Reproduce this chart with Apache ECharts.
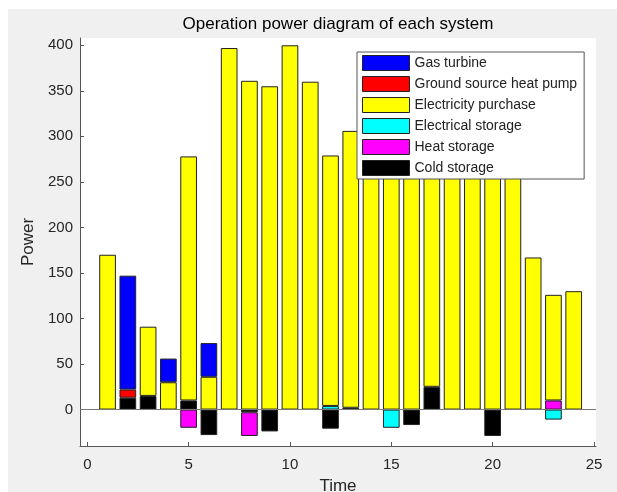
<!DOCTYPE html>
<html><head><meta charset="utf-8">
<script src="https://cdn.jsdelivr.net/npm/echarts@6/dist/echarts.min.js"></script>
<style>
html,body{margin:0;padding:0;background:#fff;}
#bg{position:absolute;left:8px;top:9px;width:609px;height:483px;background:#f0f0f0;}
#main{position:absolute;left:0;top:0;width:617px;height:492px;}
</style></head><body>
<div id="bg"></div><div id="main"></div>
<script>
// Time steps (hours)
const hours = [1,2,3,4,5,6,7,8,9,10,11,12,13,14,15,16,17,18,19,20,21,22,23,24];
// Series values (power)
const gasTurbine     = [0,125,0,26,0,37,0,0,0,0,0,0,0,0,0,0,0,0,0,0,0,0,0,0];
const groundSourceHP = [0,9,0,0,0,0,0,0,0,0,0,0,0,0,0,0,0,0,0,0,0,0,0,0];
const elecPurchase   = [170,0,76,30,268,36,397,361,355,400,360,275,304,330,300,255,285,340,360,350,320,167,116,130];
const elecStorage    = [0,0,0,0,0,0,0,0,0,0,0,4,0,0,-20,0,0,0,0,0,0,0,-11,0];
const heatStorage    = [0,0,0,0,-20,0,0,-26,0,0,0,0,0,0,0,0,0,0,0,0,0,0,10,0];
const coldStorage    = [0,13,15,0,10,-28,0,-3,-24,0,0,-21,2,0,0,-17,25,0,0,-29,0,0,0,0];
// Axis tick labels
const xTicks = [0,5,10,15,20,25];
const yTicks = [0,50,100,150,200,250,300,350,400];
const seriesNames = ['Gas turbine','Ground source heat pump','Electricity purchase','Electrical storage','Heat storage','Cold storage'];

const FONT = "'Liberation Sans', Arial, sans-serif";
const chart = echarts.init(document.getElementById('main'), null, {renderer:'canvas'});

function toData(vals){ return hours.map((h,i)=>[vals[i]===0?'-':vals[i], h]); }
function bar(name, vals, color){
  return {
    name, type:'bar', stack:'total', barWidth:16.7,
    encode:{x:1, y:0},
    itemStyle:{color, borderColor:'#222', borderWidth:1},
    emphasis:{disabled:true},
    data: toData(vals)
  };
}
const series = [
  bar('Cold storage', coldStorage, '#000000'),
  bar('Heat storage', heatStorage, '#ff00ff'),
  bar('Electrical storage', elecStorage, '#00ffff'),
  bar('Ground source heat pump', groundSourceHP, '#ff0000'),
  bar('Electricity purchase', elecPurchase, '#ffff00'),
  bar('Gas turbine', gasTurbine, '#0000ff')
];
series[0].markLine = {
  silent:true, symbol:['none','none'], label:{show:false},
  lineStyle:{color:'#777', width:1, type:'solid'},
  data:[{yAxis:0}]
};

chart.setOption({
  animation:false,
  backgroundColor:'transparent',
  textStyle:{fontFamily:FONT},
  title:{
    text:'Operation power diagram of each system',
    left:338, top:16, textAlign:'center', padding:0,
    textStyle:{fontFamily:FONT, fontSize:17, fontWeight:'normal', color:'#000'}
  },
  grid:{left:80, right:21, top:38, bottom:46, outerBoundsMode:'none', containLabel:false,
        show:true, backgroundColor:'#fff', borderWidth:0},
  legend:{
    data:seriesNames, orient:'vertical', left:357, top:52,
    padding:[3,7,3,5], itemGap:5, itemWidth:47, itemHeight:15,
    icon:'rect', backgroundColor:'#fff', borderColor:'#555', borderWidth:1,
    itemStyle:{borderColor:'#222', borderWidth:1},
    textStyle:{fontFamily:FONT, fontSize:14, color:'#222'},
    selectedMode:false, z:10
  },
  xAxis:{
    type:'value', min:-0.36, max:25.1,
    name:'Time', nameLocation:'middle', nameGap:32,
    nameTextStyle:{fontFamily:FONT, fontSize:17, color:'#262626'},
    axisLine:{onZero:false, lineStyle:{color:'#555', width:1}},
    axisTick:{show:true, inside:true, length:4, customValues:xTicks, lineStyle:{color:'#555'}},
    axisLabel:{customValues:xTicks, fontFamily:FONT, fontSize:15, color:'#262626', margin:11},
    splitLine:{show:false}
  },
  yAxis:{
    type:'value', min:-40, max:408,
    name:'Power', nameLocation:'middle', nameGap:36, nameRotate:90,
    nameTextStyle:{fontFamily:FONT, fontSize:17, color:'#262626'},
    axisLine:{show:true, onZero:false, lineStyle:{color:'#555', width:1}},
    axisTick:{show:true, inside:true, length:4, customValues:yTicks, lineStyle:{color:'#555'}},
    axisLabel:{customValues:yTicks, fontFamily:FONT, fontSize:15, color:'#262626', margin:7},
    splitLine:{show:false}
  },
  series
});
</script>
</body></html>
